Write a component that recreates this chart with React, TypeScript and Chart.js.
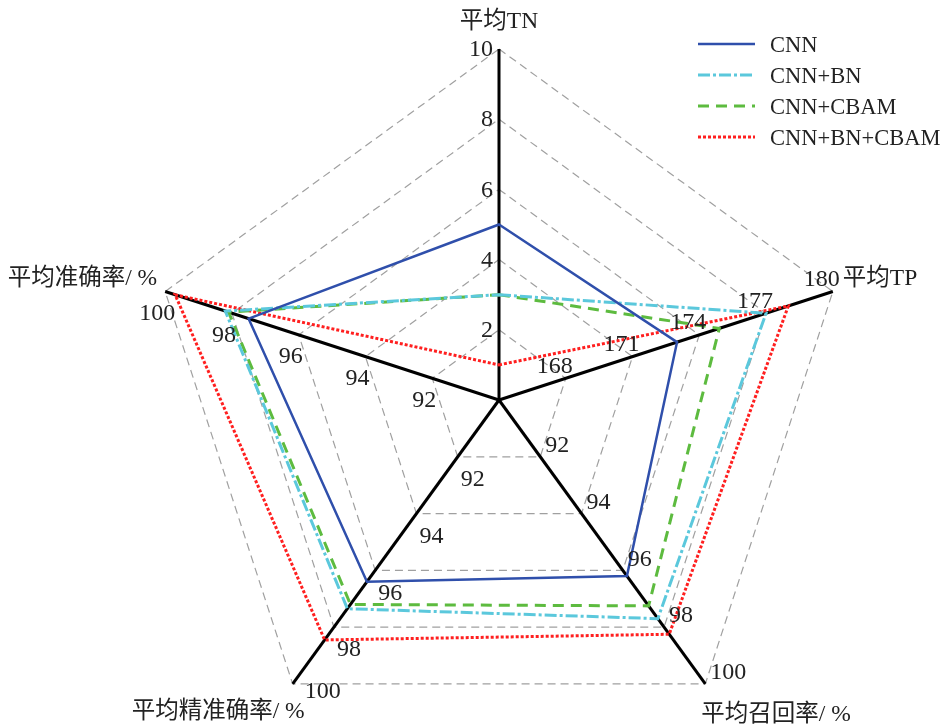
import React, { useEffect, useRef } from "react";
import { Chart, registerables } from "chart.js";

Chart.register(...registerables);

// Radar axes (clockwise from the top) and the value range each axis spans
const axisTitles = ["平均TN", "平均TP", "平均召回率/ %", "平均精准确率/ %", "平均准确率/ %"];
const axisMin = [0, 165, 90, 90, 90];
const axisMax = [10, 180, 100, 100, 100];

// Ring labels for each axis, inner ring to outer ring
const tnTicks = ["2", "4", "6", "8", "10"];
const tpTicks = ["168", "171", "174", "177", "180"];
const recallTicks = ["92", "94", "96", "98", "100"];
const precisionTicks = ["92", "94", "96", "98", "100"];
const accuracyTicks = ["92", "94", "96", "98", "100"];
const axisTicks = [tnTicks, tpTicks, recallTicks, precisionTicks, accuracyTicks];

// Series values: TN, TP, recall %, precision %, accuracy %
const seriesNames = ["CNN", "CNN+BN", "CNN+CBAM", "CNN+BN+CBAM"];
const cnnValues = [5.0, 173.0, 96.2, 96.4, 97.5];
const cnnBnValues = [3.0, 177.0, 97.7, 97.35, 98.2];
const cnnCbamValues = [3.0, 174.9, 97.25, 97.2, 98.1];
const cnnBnCbamValues = [1.0, 178.0, 98.25, 98.45, 99.7];

const RINGS = 5;
const SERIF = '"Liberation Serif", "Noto Sans CJK SC", serif';
const TEXT = "#222222";

const styles = [
  { color: "#2f4fab", width: 2.5, dash: [] as number[] },
  { color: "#5bc8dc", width: 3, dash: [12, 3, 3, 3] },
  { color: "#5dbb3f", width: 3, dash: [11, 7] },
  { color: "#ff1f1f", width: 3, dash: [3, 2] },
];

// Map each axis's own units onto the shared 0..RINGS radial scale
const normalize = (vals: number[]) =>
  vals.map((v, i) => ((v - axisMin[i]) / (axisMax[i] - axisMin[i])) * RINGS);

const overlayPlugin = {
  id: "radarOverlay",
  afterDraw(chart: any) {
    const ctx = chart.ctx as CanvasRenderingContext2D;
    const scale = chart.scales.r;
    ctx.save();
    ctx.fillStyle = TEXT;
    ctx.font = `24px ${SERIF}`;

    // ring labels
    axisTicks.forEach((ticks, i) => {
      ticks.forEach((label, k) => {
        const p = scale.getPointPositionForValue(i, k + 1);
        const last = k === ticks.length - 1;
        ctx.textBaseline = "middle";
        if (i === 0) {
          ctx.textAlign = "right";
          ctx.fillText(label, p.x - 6, p.y + 1);
        } else if (i === 1) {
          ctx.textAlign = "center";
          ctx.fillText(label, p.x - 11, p.y - 12);
        } else if (i === 2) {
          ctx.textAlign = "left";
          ctx.fillText(label, p.x + 5, p.y - 11);
        } else if (i === 3) {
          ctx.textAlign = "left";
          if (last) ctx.fillText(label, p.x + 12, p.y + 8);
          else ctx.fillText(label, p.x + 3, p.y + 23);
        } else {
          ctx.textAlign = "center";
          ctx.fillText(label, p.x - 8, p.y + 22);
        }
      });
    });

    // axis titles
    ctx.font = `23.5px ${SERIF}`;
    const ends = axisTitles.map((_, i) => scale.getPointPositionForValue(i, RINGS));
    ctx.textBaseline = "middle";
    ctx.textAlign = "center";
    ctx.fillText(axisTitles[0], ends[0].x, ends[0].y - 27);
    ctx.textAlign = "left";
    ctx.fillText(axisTitles[1], ends[1].x + 10, ends[1].y - 13);
    ctx.fillText(axisTitles[2], ends[2].x - 4, ends[2].y + 31);
    ctx.textAlign = "right";
    ctx.fillText(axisTitles[3], ends[3].x + 12, ends[3].y + 28);
    ctx.fillText(axisTitles[4], ends[4].x - 8, ends[4].y - 13);

    // legend
    ctx.font = `22.5px ${SERIF}`;
    seriesNames.forEach((name, i) => {
      const y = 45 + i * 31;
      const s = styles[i];
      ctx.beginPath();
      ctx.strokeStyle = s.color;
      ctx.lineWidth = s.width;
      ctx.setLineDash(s.dash);
      ctx.moveTo(698, y - 1);
      ctx.lineTo(755, y - 1);
      ctx.stroke();
      ctx.setLineDash([]);
      ctx.textAlign = "left";
      ctx.fillStyle = TEXT;
      ctx.fillText(name, 770, y + 1);
    });
    ctx.restore();
  },
};

export default function App() {
  const canvasRef = useRef<HTMLCanvasElement | null>(null);

  useEffect(() => {
    if (!canvasRef.current) return;
    const series = [cnnValues, cnnBnValues, cnnCbamValues, cnnBnCbamValues];
    const chart = new Chart(canvasRef.current, {
      type: "radar",
      data: {
        labels: axisTitles,
        datasets: series.map((vals, i) => ({
          label: seriesNames[i],
          data: normalize(vals),
          borderColor: styles[i].color,
          borderWidth: styles[i].width,
          borderDash: styles[i].dash,
          backgroundColor: "transparent",
          fill: false,
          pointRadius: 0,
          pointHoverRadius: 0,
          tension: 0,
        })),
      },
      options: {
        responsive: false,
        animation: false,
        events: [],
        plugins: {
          legend: { display: false },
          tooltip: { enabled: false },
        },
        scales: {
          r: {
            min: 0,
            max: RINGS,
            beginAtZero: true,
            ticks: { display: false, stepSize: 1 },
            pointLabels: { display: false },
            grid: { color: "#a0a0a0", lineWidth: 1.2, circular: false },
            border: { dash: [8, 5] },
            angleLines: { color: "#000000", lineWidth: 3 },
            afterFit: (scale: any) => {
              scale.xCenter = 499;
              scale.yCenter = 400;
              scale.drawingArea = 351;
            },
          },
        },
      } as any,
      plugins: [overlayPlugin],
    });
    return () => chart.destroy();
  }, []);

  return (
    <div
      style={{
        position: "fixed",
        left: 0,
        top: 0,
        width: 944,
        height: 727,
        background: "#ffffff",
        overflow: "hidden",
      }}
    >
      <canvas ref={canvasRef} width={944} height={727} style={{ display: "block" }} />
    </div>
  );
}
